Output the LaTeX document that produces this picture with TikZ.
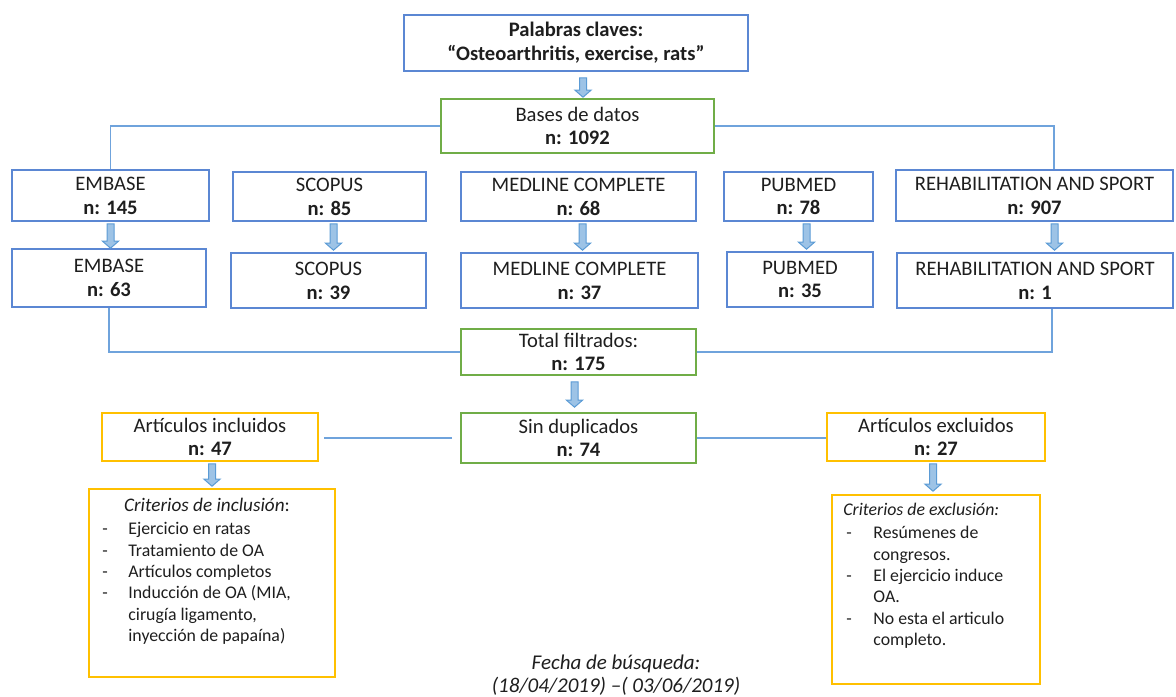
\documentclass[tikz,border=0pt]{standalone}
\usepackage{fontspec}
\setmainfont{Carlito}
\usepackage{tikz}
\usetikzlibrary{calc,positioning}
\definecolor{BoxBlue}{HTML}{5B87D3}
\definecolor{BoxGreen}{HTML}{70AD47}
\definecolor{BoxGold}{HTML}{FFC000}
\definecolor{LineBlue}{HTML}{6FA3DC}
\definecolor{ArrowEdge}{HTML}{5B9BD5}
\definecolor{ArrowFill}{HTML}{9DC3E6}
\definecolor{Ink}{HTML}{1E1E1E}
\newcommand{\guion}{\makebox[13pt][l]{-}}
\newcommand{\sigue}{\hspace*{13pt}}

\begin{document}
\begin{tikzpicture}[
      x=0.5pt, y=-0.5pt,
      every node/.style={text=Ink},
      box/.style={
        draw=BoxBlue,
        line width=0.8pt,
        inner sep=0pt,
        align=center,
        font=\fontsize{10.3}{11.9}\selectfont
      },
      greenbox/.style={box,draw=BoxGreen},
      goldbox/.style={box,draw=BoxGold},
      listtext/.style={
        inner sep=0pt,
        align=left,
        font=\fontsize{8.9}{10.7}\selectfont
      },
      linea/.style={draw=LineBlue,line width=0.75pt},
      flecha/.style={
        draw=ArrowEdge,
        fill=ArrowFill,
        line width=0.5pt,
        to path={let \p1=(\tikztostart), \p2=(\tikztotarget) in
          (\x1-1.75pt,\y1) -- (\x1+1.75pt,\y1) -- (\x1+1.75pt,\y2+3.5pt)
          -- (\x1+4pt,\y2+3.5pt) -- (\x1,\y2) -- (\x1-4pt,\y2+3.5pt)
          -- (\x1-1.75pt,\y2+3.5pt) -- cycle}
      }
    ]
      \useasboundingbox (0,0) rectangle (1176,696);

      \node[box,minimum width=172pt,minimum height=28pt] (claves) at (576,43)
        {\bfseries Palabras claves:\\ \bfseries ``Osteoarthritis, exercise, rats''};
      \node[greenbox,minimum width=136.5pt,minimum height=27pt] (bases) at (577.5,126)
        {Bases de datos\\ \bfseries n: 1092};

      \node[box,minimum width=98.5pt,minimum height=25.5pt] (embase1) at (110.5,195.5)
        {EMBASE\\ \bfseries n: 145};
      \node[box,minimum width=96.5pt,minimum height=24.5pt] (scopus1) at (329.5,196.5)
        {SCOPUS\\ \bfseries n: 85};
      \node[box,minimum width=117.5pt,minimum height=24.5pt] (medline1) at (578.5,196.5)
        {MEDLINE COMPLETE\\ \bfseries n: 68};
      \node[box,minimum width=74.5pt,minimum height=24.5pt] (pubmed1) at (798.5,196.5)
        {PUBMED\\ \bfseries n: 78};
      \node[box,minimum width=138.5pt,minimum height=25.5pt] (rehab1) at (1034.5,195.5)
        {REHABILITATION AND SPORT\\ \bfseries n: 907};

      \node[box,minimum width=97pt,minimum height=29pt] (embase2) at (109,278)
        {EMBASE\\ \bfseries n: 63};
      \node[box,minimum width=97.5pt,minimum height=27.5pt] (scopus2) at (328.5,280.5)
        {SCOPUS\\ \bfseries n: 39};
      \node[box,minimum width=118.5pt,minimum height=27.5pt] (medline2) at (579.5,280.5)
        {MEDLINE COMPLETE\\ \bfseries n: 37};
      \node[box,minimum width=73pt,minimum height=27.5pt] (pubmed2) at (800,279.5)
        {PUBMED\\ \bfseries n: 35};
      \node[box,minimum width=138pt,minimum height=27.5pt] (rehab2) at (1035,280.5)
        {REHABILITATION AND SPORT\\ \bfseries n: 1};

      \node[greenbox,minimum width=117.5pt,minimum height=23pt] (total) at (578.5,352)
        {Total filtrados:\\ \bfseries n: 175};
      \node[greenbox,minimum width=117.5pt,minimum height=25pt] (sindup) at (578.5,438)
        {Sin duplicados\\ \bfseries n: 74};
      \node[goldbox,minimum width=108pt,minimum height=24pt] (incl) at (210,437)
        {Artículos incluidos\\ \bfseries n: 47};
      \node[goldbox,minimum width=109pt,minimum height=24pt] (excl) at (936,437)
        {Artículos excluidos\\ \bfseries n: 27};

      \node[goldbox,minimum width=123pt,minimum height=94pt] (critincl) at (212,583) {};
      \node[listtext,anchor=center,font=\fontsize{9.6}{10.7}\selectfont] (inclhead) at (207,505)
        {\textit{Criterios de inclusión}:};
      \node[listtext,anchor=north west] (incltext) at (102,522)
        {\guion Ejercicio en ratas\\
         \guion Tratamiento de OA\\
         \guion Artículos completos\\
         \guion Inducción de OA (MIA,\\
         \sigue cirugía ligamento,\\
         \sigue inyección de papaína)};

      \node[goldbox,minimum width=104pt,minimum height=94.5pt] (critexcl) at (936,589.5) {};
      \node[listtext,anchor=west] (exclhead) at (843,509)
        {\textit{Criterios de exclusión:}};
      \node[listtext,anchor=north west] (excltext) at (846,526)
        {\makebox[13.5pt][l]{-}Resúmenes de\\
         \hspace*{13.5pt}congresos.\\
         \makebox[13.5pt][l]{-}El ejercicio induce\\
         \hspace*{13.5pt}OA.\\
         \makebox[13.5pt][l]{-}No esta el articulo\\
         \hspace*{13.5pt}completo.};

      \node[align=center,inner sep=0pt,font=\fontsize{10.5}{11.5}\selectfont\itshape] (fecha) at (616,675)
        {Fecha de búsqueda:\\ (18/04/2019) --( 03/06/2019)};

      \draw[linea] (bases.west) -| (embase1.north);
      \draw[linea] (bases.east) -| ([xshift=9.75pt]rehab1.north);
      \draw[linea] (embase2.south) |- (total.west);
      \draw[linea] ([xshift=8.5pt]rehab2.south) |- (total.east);
      \draw[linea,shorten <=4pt,shorten >=2.5pt] (sindup.west) -- (sindup.west -| incl.east);
      \draw[linea] (sindup.east) -- (sindup.east -| excl.west);

      \draw[flecha] ([xshift=3.5pt,yshift=-3pt]claves.south) to ([yshift=0.5pt]bases.north);
      \draw[flecha] ([yshift=-1pt]embase1.south) to (embase2.north);
      \draw[flecha] ([xshift=2pt,yshift=-1pt]scopus1.south) to ([yshift=1pt]scopus2.north);
      \draw[flecha] ([xshift=2pt,yshift=-1pt]medline1.south) to ([yshift=1pt]medline2.north);
      \draw[flecha] ([xshift=4pt,yshift=-1pt]pubmed1.south) to ([yshift=1pt]pubmed2.north);
      \draw[flecha] ([xshift=10pt,yshift=-1pt]rehab1.south) to ([yshift=1pt]rehab2.north);
      \draw[flecha] ([xshift=-2pt,yshift=-3pt]total.south) to ([yshift=2.5pt]sindup.north);
      \draw[flecha] ([xshift=1pt,yshift=-1pt]incl.south) to ([yshift=1pt]critincl.north);
      \draw[flecha] ([xshift=-1.5pt,yshift=-1pt]excl.south) to ([yshift=1.5pt]critexcl.north);
    \end{tikzpicture}
\end{document}
